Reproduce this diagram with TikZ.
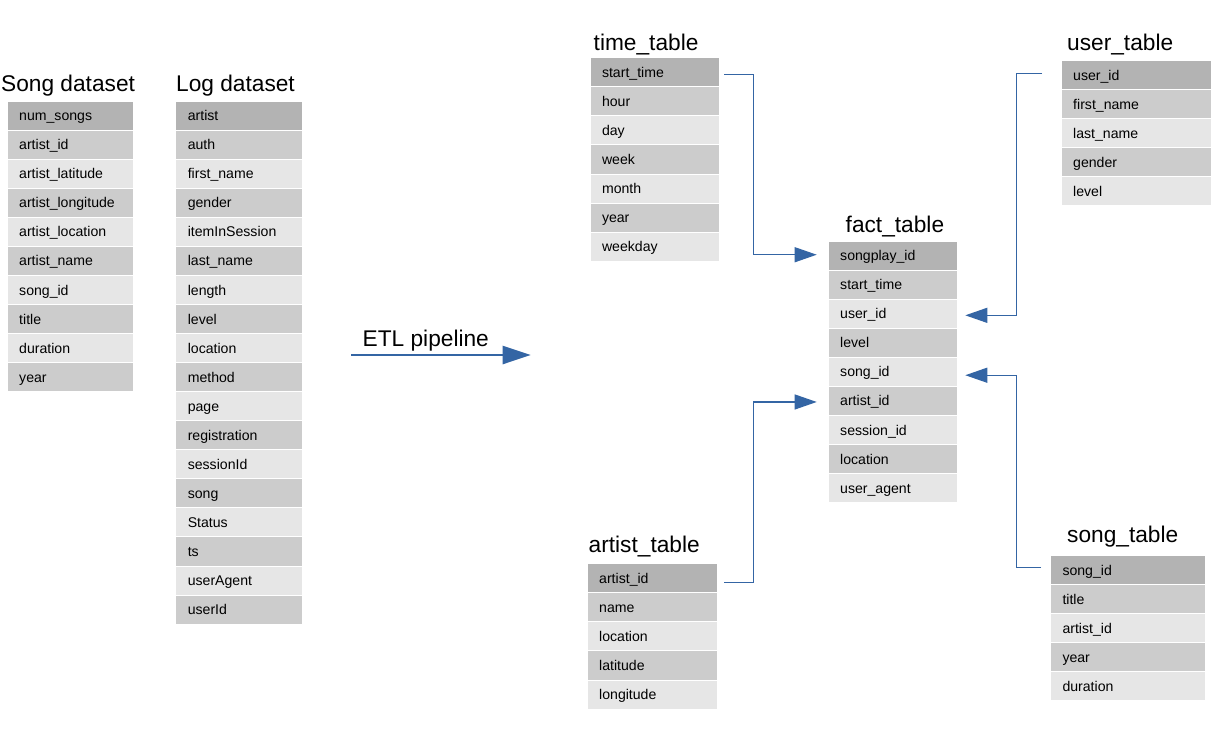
\documentclass[tikz,border=0pt]{standalone}
\usepackage{fontspec}
\setmainfont{Liberation Sans}
\usetikzlibrary{arrows.meta}
\definecolor{rowA}{HTML}{B3B3B3}
\definecolor{rowB}{HTML}{CCCCCC}
\definecolor{rowC}{HTML}{E6E6E6}
\definecolor{linkblue}{HTML}{3465A4}
\newcommand{\rowfont}{\fontsize{14.1}{17}\selectfont}
\newcommand{\ttlfont}{\fontsize{22.7}{27}\selectfont}
\newcommand{\dbtab}[5]{%
  \pgfmathsetmacro\tw{#4-24}%
  \foreach \lbl [count=\i] in {#5} {
    \ifnum\i=1 \def\rc{rowA}\else\ifodd\i \def\rc{rowC}\else\def\rc{rowB}\fi\fi
    \node[rowbox, fill=\rc, minimum width=#4pt, text width=\tw pt, anchor=north west]
      (#1-\i) at (#2, {#3+(\i-1)*29.05}) {\lbl};
  }%
}
\tikzset{
  rowbox/.style={rectangle, draw=white, line width=1pt, minimum height=29.05pt,
    inner xsep=12pt, inner ysep=0pt, text height=11.5pt, text depth=1.5pt,
    align=left, font=\rowfont, text=black},
  ttl/.style={anchor=base west, inner sep=0pt, font=\ttlfont, text=black},
  conn/.style={draw=linkblue, line width=1.2pt, -{Triangle[length=22pt,width=15pt]}},
  etl/.style={draw=linkblue, line width=2.5pt, -{Triangle[length=28pt,width=18pt]}},
}
\begin{document}
\begin{tikzpicture}[x=1pt, y=-1pt]
\useasboundingbox[fill=white] (0,0) rectangle (1219,739);

% Song dataset
\node[ttl] (songds-t) at (1,91.5) {Song dataset};
\dbtab{songds}{6.7}{100.7}{126.6}{num\_songs,artist\_id,artist\_latitude,artist\_longitude,artist\_location,artist\_name,song\_id,title,duration,year}

% Log dataset
\node[ttl] (logds-t) at (176,91.7) {Log dataset};
\dbtab{logds}{175.3}{100.7}{127}{artist,auth,first\_name,gender,itemInSession,last\_name,length,level,location,method,page,registration,sessionId,song,Status,ts,userAgent,userId}

% time_table
\node[ttl] (time-t) at (593.5,50) {time\_table};
\dbtab{time}{589.5}{57.3}{129.5}{start\_time,hour,day,week,month,year,weekday}

% fact_table
\node[ttl] (fact-t) at (845.5,232.7) {fact\_table};
\dbtab{fact}{827.7}{240.7}{129.6}{songplay\_id,start\_time,user\_id,level,song\_id,artist\_id,session\_id,location,user\_agent}

% user_table
\node[ttl] (user-t) at (1067,50) {user\_table};
\dbtab{user}{1060.7}{60}{150}{user\_id,first\_name,last\_name,gender,level}

% artist_table
\node[ttl] (artist-t) at (588.5,552.3) {artist\_table};
\dbtab{artist}{586.7}{563.3}{130}{artist\_id,name,location,latitude,longitude}

% song_table
\node[ttl] (song-t) at (1067,542.7) {song\_table};
\dbtab{song}{1050}{555}{155}{song\_id,title,artist\_id,year,duration}

% ETL pipeline
\coordinate (etl-s) at (351,355);
\coordinate (etl-e) at (530.7,355);
\node[ttl] (etl-t) at (362.5,346.7) {ETL pipeline};
\draw[etl] (etl-s) -- (etl-e);

% connector end points
\coordinate (lxL) at (753.3,0);
\coordinate (lxR) at (1016.7,0);
\coordinate (time-out) at ([yshift=-2.5pt]time-1.east);
\coordinate (artist-out) at ([yshift=-4.4pt]artist-1.east);
\coordinate (user-out) at ([yshift=1.5pt]user-1.west);
\coordinate (song-out) at ([yshift=2.2pt]song-1.west);
\coordinate (fact1-in) at ([yshift=1pt]fact-1.west);
\coordinate (fact6-in) at ([yshift=-1pt]fact-6.west);
\coordinate (fact3-in) at ([yshift=-1.5pt]fact-3.east);
\coordinate (fact5-in) at ([yshift=-3.3pt]fact-5.east);

% connectors
\draw[conn, shorten <=4pt, shorten >=11pt] (time-out) -| (lxL |- fact1-in) -- (fact1-in);
\draw[conn, shorten <=6.6pt, shorten >=11pt] (artist-out) -| (lxL |- fact6-in) -- (fact6-in);
\draw[conn, shorten <=18.7pt, shorten >=7pt] (user-out) -| (lxR |- fact3-in) -- (fact3-in);
\draw[conn, shorten <=9pt, shorten >=7pt] (song-out) -| (lxR |- fact5-in) -- (fact5-in);
\end{tikzpicture}
\end{document}
